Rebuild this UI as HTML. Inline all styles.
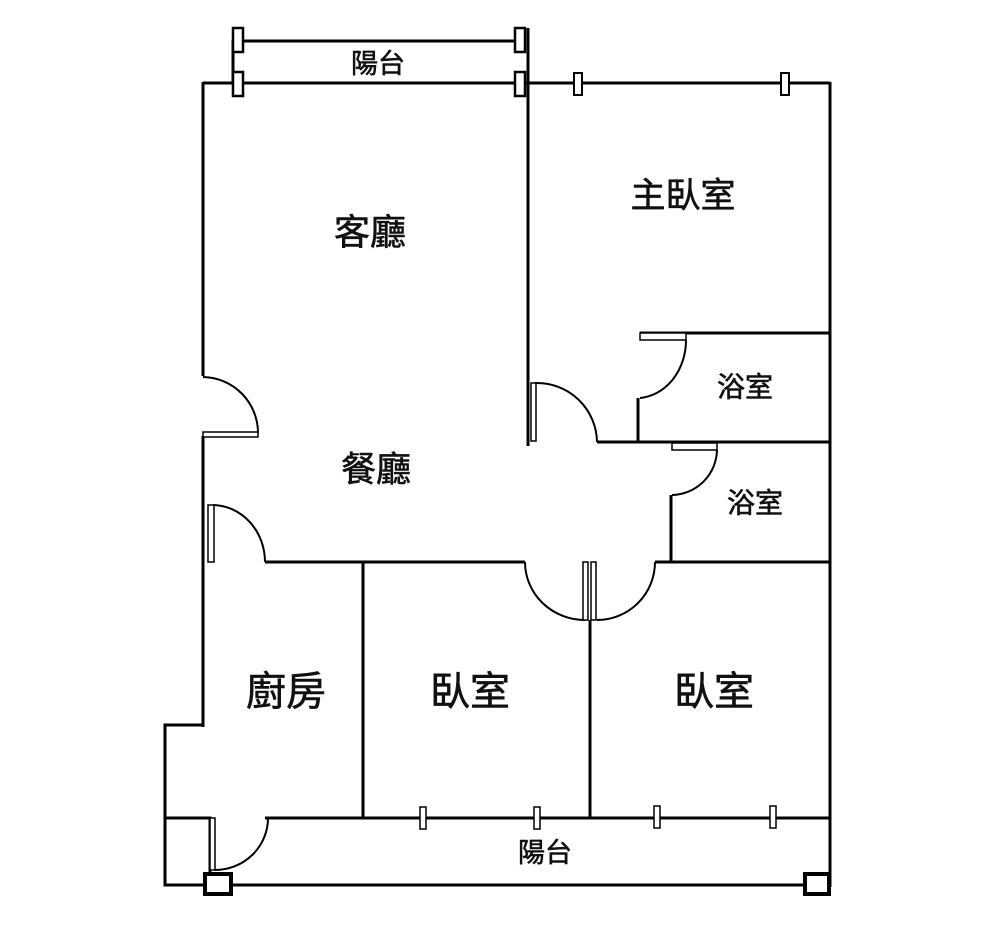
<!DOCTYPE html>
<html><head><meta charset="utf-8"><style>
html,body{margin:0;padding:0;background:#fff;}
svg{display:block}
text{font-family:"Liberation Sans","Noto Sans CJK TC",sans-serif;fill:#111;stroke:#111;stroke-width:0.6;text-anchor:middle;dominant-baseline:central}
</style></head><body>
<svg width="1000" height="932" viewBox="0 0 1000 932" xmlns="http://www.w3.org/2000/svg">
<g stroke="#000" stroke-width="3" fill="none">
<line x1="238" y1="41" x2="520" y2="41"/>
<line x1="528" y1="28" x2="528" y2="83"/>
<line x1="233" y1="40" x2="233" y2="85"/>
<line x1="203" y1="83" x2="830" y2="83"/>
<line x1="830" y1="82" x2="830" y2="887"/>
<line x1="203" y1="82" x2="203" y2="376"/>
<line x1="203" y1="436" x2="203" y2="727"/>
<polyline points="204,725 165,725 165,885 205,885"/>
<polyline points="165,818 210,818 210,885"/>
<line x1="528" y1="83" x2="528" y2="446"/>
<line x1="597" y1="442" x2="830" y2="442"/>
<line x1="640" y1="333" x2="830" y2="333"/>
<line x1="638" y1="398" x2="638" y2="442"/>
<line x1="671" y1="495" x2="671" y2="562"/>
<line x1="655" y1="562" x2="830" y2="562"/>
<line x1="265" y1="562" x2="525" y2="562"/>
<line x1="363" y1="562" x2="363" y2="818"/>
<line x1="590" y1="620" x2="590" y2="818"/>
<line x1="265" y1="818" x2="830" y2="818"/>
<line x1="205" y1="885" x2="830" y2="885"/>
</g>
<g stroke="#000" stroke-width="2" fill="none">
<path d="M203 377 A56 56 0 0 1 258 433"/>
<path d="M535 383 A60 60 0 0 1 597 442"/>
<path d="M686 340 A50 58 0 0 1 640 398"/>
<path d="M717 450 A46 46 0 0 1 672 495"/>
<path d="M213 505 A53 57 0 0 1 265 562"/>
<path d="M525 562 A60 58 0 0 0 585 620"/>
<path d="M597 620 A58 58 0 0 0 655 562"/>
<path d="M268 818 A53 52 0 0 1 215 870"/>
</g>
<g stroke="#000" stroke-width="1.5" fill="#fff">
<rect x="203" y="432" width="55" height="5"/>
<rect x="531" y="383" width="5" height="58"/>
<rect x="640" y="333" width="46" height="7"/>
<rect x="672" y="443" width="45" height="7"/>
<rect x="208" y="505" width="6" height="57"/>
<rect x="583" y="562" width="5" height="58"/>
<rect x="591" y="562" width="5" height="58"/>
<rect x="210" y="818" width="5" height="52"/>
<rect x="233" y="28" width="10" height="24" stroke-width="2.5"/>
<rect x="515" y="28" width="10" height="24" stroke-width="2.5"/>
<rect x="233" y="72" width="10" height="24" stroke-width="2.5"/>
<rect x="515" y="72" width="10" height="24" stroke-width="2.5"/>
<rect x="574" y="73" width="8" height="22" stroke-width="2"/>
<rect x="781" y="73" width="8" height="22" stroke-width="2"/>
<rect x="420" y="807" width="6" height="22"/>
<rect x="534" y="807" width="6" height="22"/>
<rect x="654" y="806" width="6" height="22"/>
<rect x="770" y="806" width="6" height="22"/>
<rect x="205" y="874" width="26" height="20" stroke-width="4"/>
<rect x="805" y="874" width="24" height="20" stroke-width="4"/>
</g>
<text x="378" y="64" font-size="27">陽台</text>
<text x="370" y="232" font-size="36">客廳</text>
<text x="683" y="196" font-size="35">主臥室</text>
<text x="745" y="387" font-size="28">浴室</text>
<text x="755" y="503" font-size="28">浴室</text>
<text x="376" y="470" font-size="35">餐廳</text>
<text x="286" y="692" font-size="40">廚房</text>
<text x="470" y="692" font-size="40">臥室</text>
<text x="714" y="692" font-size="40">臥室</text>
<text x="545" y="853" font-size="27">陽台</text>
</svg>
</body></html>
